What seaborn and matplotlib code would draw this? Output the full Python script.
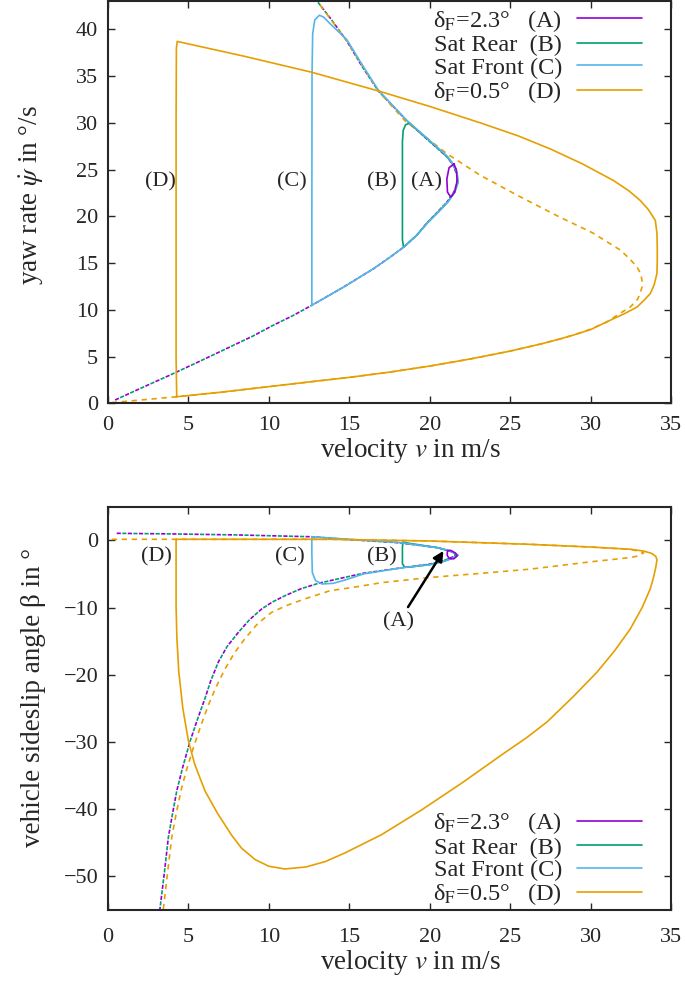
import matplotlib
matplotlib.use("Agg")
import matplotlib.pyplot as plt
import seaborn as sns

sns.set_style("ticks")
plt.rcParams['font.family'] = ['Liberation Serif', 'DejaVu Serif']
plt.rcParams['mathtext.fontset'] = 'stix'
plt.rcParams['lines.scale_dashes'] = False

PURPLE = "#9400D3"
GREEN = "#009E73"
BLUE = "#56B4E9"
ORANGE = "#E69F00"

#### yaw rate over velocity (upper plot)
# steady state, delta_F = 2.3 deg
ss23_v = [0.44, 2.0, 3.86, 5.5, 7.38, 9.0, 10.2, 11.5, 12.67, 14.6, 16.5, 17.5, 18.37, 19.2, 19.82, 20.5, 21.1, 21.5, 21.7,
          21.68, 21.45, 21.1, 20.65, 19.6, 18.58, 17.7, 16.8, 15.8, 14.84, 13.9, 13.0, 12.6]
ss23_r = [0.37, 1.6, 3.04, 4.35, 5.88, 7.2, 8.3, 9.4, 10.5, 12.4, 14.4, 15.6, 16.7, 18.0, 19.3, 20.5, 21.6, 22.6, 23.6,
          24.5, 25.5, 26.3, 27.0, 28.6, 30.2, 31.8, 33.4, 36.0, 38.75, 41.0, 43.0, 44.5]
# steady state, delta_F = 0.5 deg
ss05_v = [0.23, 4.27, 7.0, 10.0, 12.5, 15.0, 17.5, 20.0, 22.5, 25.0, 27.0, 28.1, 29.0, 30.0, 31.0, 31.84, 32.46, 32.9, 33.08,
          33.2, 33.19, 33.1, 32.88, 32.4, 31.84, 31.0, 30.16, 29.2, 28.1, 25.5, 23.13, 21.06, 18.47, 16.8, 14.84, 13.0, 12.6]
ss05_r = [0.09, 0.72, 1.2, 1.8, 2.3, 2.79, 3.35, 4.0, 4.75, 5.6, 6.4, 6.9, 7.35, 7.95, 8.7, 9.65, 10.3, 11.1, 11.75,
          12.5, 13.2, 13.9, 14.6, 15.5, 16.4, 17.3, 18.2, 19.0, 19.9, 22.2, 24.4, 26.7, 30.2, 33.4, 38.75, 43.0, 44.5]
# trajectories
A_v = [21.5, 21.2, 21.06, 21.1, 21.3, 21.55, 21.7, 21.65, 21.5]
A_r = [25.6, 25.2, 24.0, 22.6, 22.05, 22.6, 23.8, 25.0, 25.6]
B_v = [18.37, 18.3, 18.3, 18.35, 18.5, 18.75, 19.6, 20.65, 21.1, 21.45, 21.7, 21.75, 21.55, 21.15, 20.55, 19.85, 19.2, 18.37]
B_r = [16.7, 17.5, 28.0, 29.2, 29.8, 29.95, 28.65, 27.05, 26.35, 25.55, 24.6, 23.6, 22.6, 21.6, 20.5, 19.3, 18.0, 16.7]
C_v = [12.67, 12.67, 12.68, 12.72, 12.85, 13.14, 13.4, 13.8, 14.84, 15.8, 16.8, 17.7, 18.58, 19.6, 20.65, 21.1, 21.45, 21.7,
       21.75, 21.55, 21.15, 20.55, 19.85, 19.2, 18.37, 17.5, 16.5, 14.6, 12.67]
C_r = [10.5, 20.0, 35.0, 39.5, 41.0, 41.5, 41.3, 40.6, 38.9, 36.2, 33.5, 31.85, 30.25, 28.7, 27.1, 26.4, 25.6, 24.6,
       23.6, 22.6, 21.6, 20.5, 19.3, 18.0, 16.7, 15.6, 14.4, 12.4, 10.5]
D_v = [4.27, 4.23, 4.23, 4.25, 4.3, 8.5, 12.67, 16.81, 20.0, 23.13, 25.5, 27.5, 29.5, 31.42, 32.4, 33.08, 33.6, 34.02,
       34.12, 34.14, 34.14, 34.12, 33.95, 33.71, 33.3, 32.88, 32.1, 31.22, 30.0, 29.0, 28.1, 27.0, 25.0, 22.5, 20.0,
       17.5, 15.0, 12.5, 10.0, 7.0, 4.27]
D_r = [0.72, 5.0, 30.0, 38.0, 38.7, 37.1, 35.4, 33.4, 31.75, 30.0, 28.6, 27.2, 25.6, 23.83, 22.7, 21.7, 20.7, 19.56,
       18.2, 16.7, 15.2, 13.9, 12.7, 11.75, 11.0, 10.3, 9.6, 8.9, 7.9, 7.35, 6.9, 6.4, 5.6, 4.75, 4.0,
       3.35, 2.79, 2.3, 1.8, 1.2, 0.72]

#### sideslip angle over velocity (lower plot)
bss23_v = [0.54, 4.0, 8.0, 12.67, 15.0, 18.0, 20.5, 21.5, 21.6, 21.0, 20.0, 18.37, 15.88, 14.74, 13.08, 12.0, 11.0, 10.2,
           9.56, 8.8, 8.1, 7.4, 6.86, 6.4, 6.03, 5.55, 5.1, 4.65, 4.27, 4.0, 3.75, 3.5, 3.23, 3.1]
bss23_b = [1.04, 0.95, 0.8, 0.53, 0.1, -0.35, -1.1, -1.8, -2.3, -2.9, -3.55, -4.05, -4.9, -5.5, -6.4, -7.2, -8.24, -9.2,
           -10.2, -11.8, -13.7, -15.8, -18.1, -20.8, -23.5, -26.7, -29.9, -33.7, -37.3, -40.8, -44.2, -49.5, -54.8, -57.0]
bss05_v = [0.23, 4.27, 13.8, 20.0, 26.24, 30.0, 32.46, 33.3, 33.0, 32.46, 30.0, 26.24, 23.0, 20.0, 17.0, 15.5, 13.8, 12.25,
           11.1, 10.18, 9.3, 8.52, 7.85, 7.28, 6.7, 6.24, 5.75, 5.3, 4.9, 4.58, 4.25, 3.96, 3.7, 3.44, 3.3]
bss05_b = [0.15, 0.15, 0.15, -0.1, -0.6, -1.0, -1.33, -1.83, -2.3, -2.57, -3.2, -4.29, -4.95, -5.53, -6.3, -6.9, -7.5, -8.7,
           -9.7, -10.7, -12.4, -14.6, -16.8, -19.1, -21.9, -24.5, -27.7, -30.9, -34.0, -36.8, -40.5, -44.2, -49.5, -54.8, -57.0]
bA_v = [21.1, 21.3, 21.6, 21.7, 21.5, 21.2, 21.08, 21.1]
bA_b = [-1.55, -1.5, -1.9, -2.3, -2.75, -2.7, -2.2, -1.55]
bB_v = [18.33, 18.3, 18.3, 18.45, 18.7, 20.0, 20.9, 21.6, 21.75, 21.3, 20.5, 18.6, 18.33]
bB_b = [-0.3, -1.0, -3.5, -4.0, -4.0, -3.6, -3.1, -2.5, -2.2, -1.6, -1.1, -0.4, -0.3]
bC_v = [12.67, 12.67, 12.7, 12.9, 13.3, 14.0, 14.74, 15.88, 18.37, 20.0, 20.9, 21.6, 21.75, 21.3, 20.5, 18.0, 15.0, 12.67]
bC_b = [0.53, -2.0, -4.8, -6.0, -6.5, -6.4, -5.9, -5.0, -4.05, -3.65, -3.1, -2.5, -2.2, -1.6, -1.1, -0.3, 0.15, 0.53]
bD_v = [4.23, 13.8, 20.0, 26.24, 30.0, 32.46, 33.3, 33.8, 34.05, 34.12, 34.05, 33.9, 33.7, 33.2, 32.46, 31.5, 30.4, 28.9,
        27.3, 26.0, 24.6, 22.0, 19.5, 17.0, 14.74, 13.5, 12.3, 11.0, 10.0, 9.14, 8.3, 7.69, 6.8, 6.03, 5.4, 5.0, 4.65,
        4.4, 4.28, 4.23, 4.23, 4.23]
bD_b = [0.15, 0.15, -0.1, -0.6, -1.0, -1.33, -1.6, -1.95, -2.4, -2.9, -4.0, -5.6, -7.25, -10.0, -13.2, -16.4, -19.6, -23.3,
        -27.0, -29.4, -31.7, -36.1, -40.1, -43.8, -46.5, -47.8, -48.6, -48.9, -48.5, -47.5, -45.8, -43.9, -40.6, -37.3,
        -33.4, -29.9, -25.0, -19.6, -14.5, -9.7, -3.0, 0.15]

labels = ["δ$_\\mathrm{F}$=2.3°   (A)", "Sat Rear  (B)", "Sat Front (C)", "δ$_\\mathrm{F}$=0.5°   (D)"]
case_tags = ["(A)", "(B)", "(C)", "(D)"]

FS = 16
LFS = 17.5
AFS = 19.5
LW = 1.2
dash_p = (0, (3.0, 5.0))
dash_g = (4.0, (3.0, 5.0))
dash_o = (0, (3.8, 3.4))


def line(ax, v, y, color, ls="-"):
    sns.lineplot(x=v, y=y, sort=False, estimator=None, color=color, lw=LW, linestyle=ls, ax=ax)
    return ax.lines[-1]


def style_axes(ax, xpad, ylab_y):
    ax.tick_params(direction="in", top=True, right=True, length=5, width=1, labelsize=FS, pad=7)
    ax.tick_params(axis="x", pad=xpad)
    for s in ax.spines.values():
        s.set_linewidth(1.5)
    ax.set_xlim(0, 35)
    ax.set_xticks(range(0, 36, 5))
    ax.set_xlabel("velocity $v$ in m/s", fontsize=AFS, labelpad=1)
    ax.xaxis.label.set_x(0.538)
    ax.yaxis.set_label_coords(-0.11, ylab_y)


fig = plt.figure(figsize=(6.85, 9.86), dpi=100)
ax1 = fig.add_axes([0.1577, 0.5908, 0.822, 0.408])
ax2 = fig.add_axes([0.1577, 0.0771, 0.822, 0.409])

# upper plot
line(ax1, ss23_v, ss23_r, PURPLE, dash_p)
line(ax1, ss23_v, ss23_r, GREEN, dash_g)
line(ax1, ss05_v, ss05_r, ORANGE, dash_o)
hB = line(ax1, B_v, B_r, GREEN)
hC = line(ax1, C_v, C_r, BLUE)
hA = line(ax1, A_v, A_r, PURPLE)
hD = line(ax1, D_v, D_r, ORANGE)
ax1.set_ylim(0, 43)
ax1.set_yticks(range(0, 41, 5))
ax1.set_ylabel("yaw rate $\\dot{\\psi}$ in °/s", fontsize=AFS)
for tag, xv in zip(case_tags, [19.78, 17.02, 11.4, 3.23]):
    ax1.text(xv, 23.7, tag, fontsize=FS, ha="center", va="center")
ax1.legend([hA, hB, hC, hD], labels, loc="upper right", bbox_to_anchor=(0.975, 1.02),
           frameon=False, markerfirst=False, fontsize=LFS, handlelength=2.7,
           labelspacing=0.02, handletextpad=0.6, borderaxespad=0.2)
style_axes(ax1, 9, 0.518)

# lower plot
line(ax2, bss23_v, bss23_b, PURPLE, dash_p)
line(ax2, bss23_v, bss23_b, GREEN, dash_g)
line(ax2, bss05_v, bss05_b, ORANGE, dash_o)
gB = line(ax2, bB_v, bB_b, GREEN)
gC = line(ax2, bC_v, bC_b, BLUE)
gA = line(ax2, bA_v, bA_b, PURPLE)
gD = line(ax2, bD_v, bD_b, ORANGE)
ax2.set_ylim(-55, 5)
ax2.set_yticks(range(-50, 1, 10))
ax2.set_ylabel("vehicle sideslip angle β in °", fontsize=AFS)
for tag, xv in zip(case_tags[1:], [17.0, 11.3, 3.03]):
    ax2.text(xv, -2.4, tag, fontsize=FS, ha="center", va="center")
ax2.annotate("(A)", xy=(20.85, -1.58), xytext=(18.05, -12.2), fontsize=FS, ha="center", va="center",
             arrowprops=dict(arrowstyle="-|>", color="black", lw=1.8, mutation_scale=15, shrinkA=2, shrinkB=0))
ax2.legend([gA, gB, gC, gD], labels, loc="lower right", bbox_to_anchor=(0.975, -0.03),
           frameon=False, markerfirst=False, fontsize=LFS, handlelength=2.7,
           labelspacing=0.02, handletextpad=0.6, borderaxespad=0.2)
style_axes(ax2, 13, 0.526)

fig.savefig("out.png", dpi=100)
